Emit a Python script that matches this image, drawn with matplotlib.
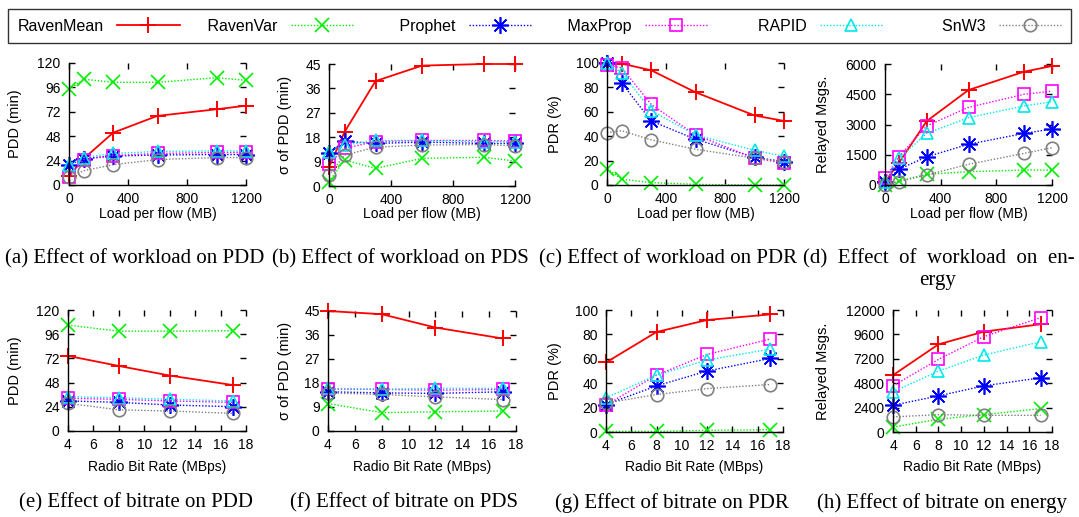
import matplotlib.pyplot as plt

plt.rcParams['font.family'] = ['Liberation Sans', 'DejaVu Sans']

W, H = 1079, 517

series = ['RavenMean', 'RavenVar', 'Prophet', 'MaxProp', 'RAPID', 'SnW3']

load_mb = [0, 100, 300, 600, 1000, 1200]
bitrate = [4, 8, 12, 17]

# rows follow the order of `series`
pdd_load = [
    [9, 26, 51.5, 68, 74.5, 78],
    [94, 104, 101, 101, 105.5, 103],
    [19.5, 26, 28.5, 29.5, 30, 30],
    [8, 25, 29, 31, 32, 32],
    [20, 27, 31, 33, 33.5, 33.5],
    [8, 14, 20, 25, 27, 27],
]
pds_load = [
    [7, 19.9, 38.7, 44.4, 45, 45],
    [1.6, 9.6, 6.5, 10.2, 10.6, 9.2],
    [12, 16.5, 15.7, 16.2, 15.7, 15.7],
    [8.1, 13.9, 16.4, 16.8, 16.8, 16.6],
    [12.5, 15.1, 16.8, 16.8, 16.3, 16.3],
    [4, 11.4, 14.3, 15.1, 15.3, 14.8],
]
pdr_load = [
    [100, 99.5, 94, 76, 57, 52.5],
    [13.5, 4.7, 2, 0.5, 0, 0],
    [100, 83.5, 52.5, 37.5, 22.7, 19.2],
    [98.5, 96, 66, 41, 22, 18],
    [100, 92, 61, 41, 28.5, 23.5],
    [43, 44.5, 37, 29.3, 22, 19.2],
]
msgs_load = [
    [165, 1100, 3170, 4710, 5620, 5900],
    [0, 200, 530, 660, 740, 740],
    [165, 780, 1400, 2020, 2560, 2780],
    [330, 1400, 2930, 3850, 4500, 4650],
    [165, 1320, 2560, 3340, 3920, 4130],
    [0, 165, 500, 1025, 1570, 1850],
]
pdd_rate = [
    [74.5, 64.5, 55, 45.5],
    [105, 99, 99, 99.5],
    [29.8, 28.4, 25.8, 24.1],
    [32.4, 31.4, 29.8, 28.4],
    [34, 33, 31.4, 29.8],
    [27.4, 21, 19.8, 17.5],
]
pds_rate = [
    [45, 43.8, 38.8, 34.7],
    [10.3, 6.9, 7.2, 7.5],
    [14.7, 14.3, 14.1, 14.7],
    [15.7, 15.6, 15.3, 15.6],
    [16, 15.7, 16, 16],
    [14.3, 13.7, 12.8, 11.8],
]
pdr_rate = [
    [57, 82, 91.8, 96.4],
    [0.5, 0.5, 1.4, 1.9],
    [22.5, 37.8, 50, 60.3],
    [22, 46.6, 63.6, 76.2],
    [28, 46.6, 59, 68],
    [23.8, 30.7, 35.6, 38.9],
]
msgs_rate = [
    [5590, 8620, 9870, 10600],
    [490, 1250, 1710, 2300],
    [2630, 3550, 4540, 5330],
    [4540, 7140, 9380, 11250],
    [3950, 5990, 7570, 8880],
    [1480, 1710, 1640, 1640],
]

captions_top = ['(a) Effect of workload on PDD', '(b) Effect of workload on PDS',
                '(c) Effect of workload on PDR']
captions_bot = ['(e) Effect of bitrate on PDD', '(f) Effect of bitrate on PDS',
                '(g) Effect of bitrate on PDR', '(h) Effect of bitrate on energy']

dot = (0, (1, 1.3))
styles = [
    dict(color='#ff0000', ls='-', lw=1.3, marker='+', ms=12, mew=1.4),
    dict(color='#00ee00', ls=dot, lw=1.0, marker='x', ms=10, mew=1.2),
    dict(color='#0000ff', ls=dot, lw=1.0, marker=(8, 2, 0), ms=12, mew=1.2),
    dict(color='#ff00ff', ls=dot, lw=1.0, marker='s', ms=8, mew=1.2, mfc='none'),
    dict(color='#00e8e8', ls=dot, lw=1.0, marker='^', ms=9, mew=1.2, mfc='none'),
    dict(color='#808080', ls=dot, lw=1.0, marker='o', ms=9, mew=1.2, mfc='none'),
]

# (data, x, pixel box [left, right, top, bottom], ymax, ystep, ylabel, ylabel x px)
panels = [
    (pdd_load, load_mb, [69, 246, 63, 185], 120, 24, 'PDD (min)', 15),
    (pds_load, load_mb, [329, 515, 64, 186], 45, 9, 'σ of PDD (min)', 285),
    (pdr_load, load_mb, [607, 784, 63, 185], 100, 20, 'PDR (%)', 555),
    (msgs_load, load_mb, [885, 1052, 64, 185], 6000, 1500, 'Relayed Msgs.', 823),
    (pdd_rate, bitrate, [68, 246, 310, 431], 120, 24, 'PDD (min)', 15),
    (pds_rate, bitrate, [328, 516, 311, 431], 45, 9, 'σ of PDD (min)', 285),
    (pdr_rate, bitrate, [606, 783, 310, 432], 100, 20, 'PDR (%)', 555),
    (msgs_rate, bitrate, [893, 1052, 310, 432], 12000, 2400, 'Relayed Msgs.', 823),
]

fig = plt.figure(figsize=(W / 100, H / 100), dpi=100)

handles = []
for i, (data, xs, box, ymax, ystep, ylabel, ylab_px) in enumerate(panels):
    l, r, t, b = box
    ax = fig.add_axes([l / W, 1 - b / H, (r - l) / W, (b - t) / H])
    for k, name in enumerate(series):
        ln, = ax.plot(xs, data[k], label=name, clip_on=False, **styles[k])
        if i == 0:
            handles.append(ln)
    ax.set_ylim(0, ymax)
    ax.set_yticks(range(0, ymax + 1, ystep))
    if xs is load_mb:
        ax.set_xlim(0, 1200)
        ax.set_xticks([0, 400, 800, 1200])
        xlabel = 'Load per flow (MB)'
        xlab_px = 214
    else:
        ax.set_xlim(4, 18)
        ax.set_xticks(range(4, 19, 2))
        xlabel = 'Radio Bit Rate (MBps)'
        xlab_px = 467
    for s in ['top', 'right']:
        ax.spines[s].set_visible(False)
    for s in ['left', 'bottom']:
        ax.spines[s].set_linewidth(1.0)
    ax.tick_params(direction='in', length=4, width=1, top=True, right=True,
                   labelsize=10)
    ax.tick_params(axis='y', pad=6)
    ax.tick_params(axis='x', pad=5)
    ax.set_ylabel(ylabel, fontsize=10.5)
    ax.yaxis.label.set_va('center')
    ax.yaxis.set_label_coords((ylab_px - l) / (r - l), 0.5)
    ax.set_xlabel(xlabel, fontsize=10)
    ax.xaxis.label.set_va('center')
    ax.xaxis.set_label_coords(0.5, -(xlab_px - b) / (b - t))

serif = ['Liberation Serif', 'DejaVu Serif']
for cx, txt in zip([135, 400, 668], captions_top):
    fig.text(cx / W, 1 - 259 / H, txt, ha='center', va='center',
             fontsize=15, family=serif)
fig.text(803 / W, 1 - 259 / H, '(d)  Effect  of  workload  on  en-', ha='left',
         va='center', fontsize=15, family=serif)
fig.text(938 / W, 1 - 281 / H, 'ergy', ha='center', va='center',
         fontsize=15, family=serif)
for cx, txt in zip([136, 404, 672, 942], captions_bot):
    fig.text(cx / W, 1 - 503 / H, txt, ha='center', va='center',
             fontsize=15, family=serif)

# gnuplot-style key: labels right-justified in equal-width columns
pad_spaces = [0, 3, 7, 5, 8, 10]
legend_labels = [' ' * n + s for n, s in zip(pad_spaces, series)]
leg = fig.legend(handles, legend_labels, loc='center', ncol=6, mode='expand',
                 bbox_to_anchor=(8 / W, 1 - 45 / H, 1063 / W, 38 / H),
                 markerfirst=False, handlelength=3.9, fontsize=11.5,
                 frameon=True, fancybox=False, borderaxespad=0, borderpad=0.6,
                 handletextpad=0.85, columnspacing=0.8)
leg.get_frame().set_edgecolor('black')
leg.get_frame().set_linewidth(1.0)

fig.savefig('out.png', dpi=100)
